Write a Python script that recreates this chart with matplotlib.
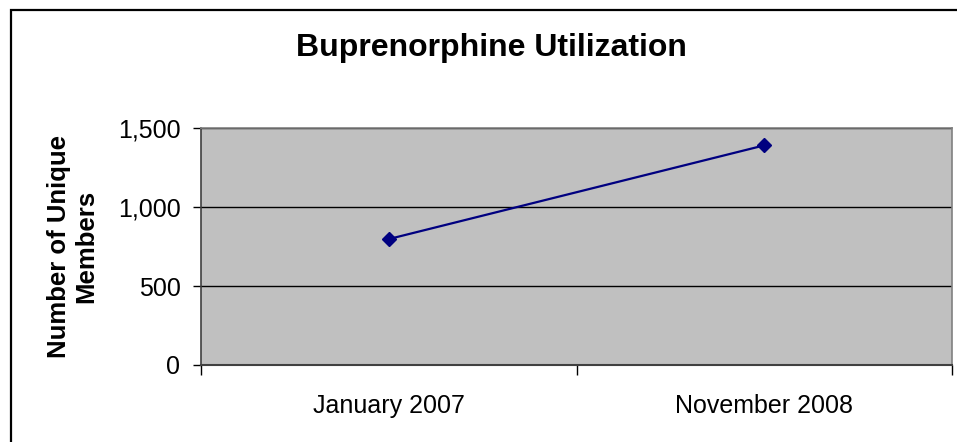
import matplotlib
matplotlib.use('Agg')
import matplotlib.pyplot as plt
from matplotlib.patches import Rectangle
from matplotlib.ticker import FuncFormatter

categories = ['January 2007', 'November 2008']
members = [797, 1390]
y_ticks = [0, 500, 1000, 1500]

W, H = 957, 442
plt.rcParams['font.family'] = ['Liberation Sans', 'DejaVu Sans']

fig = plt.figure(figsize=(W / 100, H / 100), dpi=100)

# outer chart border (right/bottom run off the image like the source)
fig.patches.append(Rectangle((11 / W, -0.1), 1.2, 1 - 10 / H + 0.1, transform=fig.transFigure,
                             fill=False, edgecolor='black', linewidth=1.6, zorder=0))

ax = fig.add_axes([201 / W, 1 - 365 / H, (952 - 201) / W, (365 - 128) / H])
ax.set_facecolor('#C0C0C0')

x = list(range(len(categories)))
ax.plot(x, members, color='#000080', linewidth=1.6, marker='D', markersize=7.5, zorder=3)

ax.set_xlim(-0.5, len(categories) - 0.5)
ax.set_ylim(0, 1500)
ax.set_yticks(y_ticks)
ax.yaxis.set_major_formatter(FuncFormatter(lambda v, p: f'{int(v):,}'))
ax.set_xticks(x)
ax.set_xticklabels(categories)
ax.set_xticks([-0.5, 0.5, 1.5], minor=True)
ax.tick_params(axis='x', which='major', length=0, pad=21, labelsize=18)
ax.tick_params(axis='x', which='minor', length=7, width=1, direction='out')
ax.tick_params(axis='y', length=5.8, width=1, labelsize=18, pad=9)

ax.grid(axis='y', color='black', linewidth=1)
ax.set_axisbelow(True)

for s in ['top', 'right']:
    ax.spines[s].set_color('#808080')
    ax.spines[s].set_linewidth(1.2)
ax.spines['left'].set_color('#404040')
ax.spines['bottom'].set_color('#404040')
ax.spines['left'].set_linewidth(1.2)
ax.spines['bottom'].set_linewidth(1.5)

fig.text(491 / W, 1 - 48 / H, 'Buprenorphine Utilization', ha='center', va='center',
         fontsize=23, fontweight='bold')
fig.text(73 / W, 1 - 246 / H, 'Number of Unique\nMembers', ha='center', va='center',
         rotation=90, fontsize=18.5, fontweight='bold', linespacing=1.18)

fig.savefig('out.png', dpi=100)
